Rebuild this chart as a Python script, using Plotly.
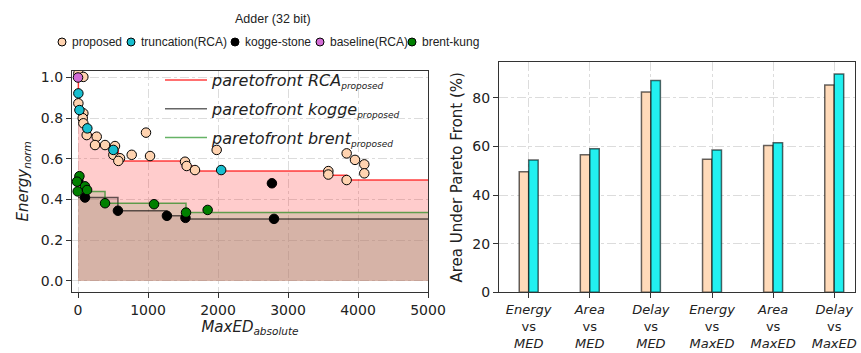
import plotly.graph_objects as go

# ---------------- left panel data ----------------
prop_x = [5, 76, 5, 76, 67, 76, 124, 267, 243, 386, 528, 505, 600, 576, 767, 1029, 971,
          1529, 1552, 1671, 1981, 3576, 3576, 3838, 3838, 3957, 4090, 4090]
prop_y = [1.02, 1.003, 0.873, 0.824, 0.80, 0.775, 0.717, 0.709, 0.668, 0.668, 0.663, 0.62, 0.603,
          0.59, 0.62, 0.614, 0.729, 0.586, 0.565, 0.545, 0.644, 0.54, 0.523, 0.496, 0.627,
          0.595, 0.573, 0.529]

trunc_x = [5, 20, 133, 505, 2045]
trunc_y = [0.922, 0.84, 0.75, 0.644, 0.545]

kogge_x = [5, 100, 570, 1270, 1535, 2770, 2800]
kogge_y = [0.492, 0.41, 0.345, 0.32, 0.31, 0.48, 0.305]

base_x = [0]
base_y = [1.0]

brent_x = [20, -15, 100, 130, -5, 386, 1086, 1543, 1852]
brent_y = [0.515, 0.488, 0.465, 0.447, 0.44, 0.382, 0.377, 0.336, 0.349]

front_rca_x = [0, 5, 20, 70, 130, 290, 505, 576, 1529, 1640, 3576, 3838, 5000]
front_rca_y = [1.0, 0.92, 0.84, 0.775, 0.72, 0.665, 0.644, 0.59, 0.565, 0.54, 0.52, 0.496, 0.496]

front_kogge_x = [0, 570, 1270, 1535, 5000]
front_kogge_y = [0.41, 0.345, 0.32, 0.305, 0.305]

front_brent_x = [0, 386, 1543, 5000]
front_brent_y = [0.44, 0.382, 0.336, 0.336]

legend_title = "Adder (32 bit)"
legend_labels = ["proposed", "truncation(RCA)", "kogge-stone", "baseline(RCA)", "brent-kung"]

# ---------------- right panel data ----------------
bar_categories = [
    "<i>Energy</i><br>vs<br><i>MED</i>",
    "<i>Area</i><br>vs<br><i>MED</i>",
    "<i>Delay</i><br>vs<br><i>MED</i>",
    "<i>Energy</i><br>vs<br><i>MaxED</i>",
    "<i>Area</i><br>vs<br><i>MaxED</i>",
    "<i>Delay</i><br>vs<br><i>MaxED</i>",
]
bar_proposed = [49.6, 56.6, 82.4, 54.7, 60.4, 85.3]
bar_truncation = [54.4, 59.0, 87.1, 58.5, 61.5, 89.8]

W, H = 861, 353
FONT = "DejaVu Sans"
LFONT = "Liberation Sans"

marker_colors = ["#FFD3B0", "#17BECF", "black", "#D36ED6", "#008000"]

fig = go.Figure()

# fills (no legend)
fig.add_trace(go.Scatter(x=front_rca_x, y=front_rca_y, mode="lines", line=dict(shape="hv", width=0),
                         fill="tozeroy", fillcolor="rgba(255,0,0,0.2)", showlegend=False,
                         hoverinfo="skip", xaxis="x", yaxis="y"))
fig.add_trace(go.Scatter(x=front_brent_x, y=front_brent_y, mode="lines", line=dict(shape="hv", width=0),
                         fill="tozeroy", fillcolor="rgba(139,169,113,0.25)", showlegend=False,
                         hoverinfo="skip", xaxis="x", yaxis="y"))
fig.add_trace(go.Scatter(x=front_kogge_x, y=front_kogge_y, mode="lines", line=dict(shape="hv", width=0),
                         fill="tozeroy", fillcolor="rgba(178,132,126,0.25)", showlegend=False,
                         hoverinfo="skip", xaxis="x", yaxis="y"))

# front lines (inner legend)
sub = '<sub><span style="font-size:9px">proposed</span></sub>'
fig.add_trace(go.Scatter(x=front_rca_x, y=front_rca_y, mode="lines",
                         line=dict(shape="hv", width=1.5, color="rgba(255,0,0,0.75)"),
                         name="<i>paretofront RCA" + sub + "</i>", legend="legend2",
                         legendgroup="a", xaxis="x", yaxis="y"))
fig.add_trace(go.Scatter(x=front_kogge_x, y=front_kogge_y, mode="lines",
                         line=dict(shape="hv", width=1.5, color="rgba(0,0,0,0.6)"),
                         name="<i>paretofront kogge" + sub + "</i>", legend="legend2",
                         legendgroup="b", xaxis="x", yaxis="y"))
fig.add_trace(go.Scatter(x=front_brent_x, y=front_brent_y, mode="lines",
                         line=dict(shape="hv", width=1.5, color="rgba(0,128,0,0.6)"),
                         name="<i>paretofront brent" + sub + "</i>", legend="legend2",
                         legendgroup="c", xaxis="x", yaxis="y"))

series = [(prop_x, prop_y), (trunc_x, trunc_y), (kogge_x, kogge_y), (base_x, base_y), (brent_x, brent_y)]
for (sx, sy), name, col in zip(series, legend_labels, marker_colors):
    fig.add_trace(go.Scatter(x=sx, y=sy, mode="markers", name=name, showlegend=False,
                             marker=dict(color=col, size=9.5, line=dict(color="black", width=1)),
                             xaxis="x", yaxis="y"))

# bars
fig.add_trace(go.Bar(x=bar_categories, y=bar_proposed, marker=dict(color="#FFDAB9",
                     line=dict(color="rgba(0,0,0,0.6)", width=1.5)), showlegend=False,
                     xaxis="x2", yaxis="y2"))
fig.add_trace(go.Bar(x=bar_categories, y=bar_truncation, marker=dict(color="#22F0F0",
                     line=dict(color="rgba(0,0,0,0.6)", width=1.5)), showlegend=False,
                     xaxis="x2", yaxis="y2"))

# top legend built from shapes + text (matches compact matplotlib layout)
marker_px = [62, 131, 235, 320, 412]
ly = 1 - 42 / H
shapes = []
annotations = [dict(text=legend_title, x=273 / W, y=1 - 19 / H, xref="paper", yref="paper",
                    showarrow=False, xanchor="center", yanchor="middle",
                    font=dict(family=LFONT, size=12.5, color="#222"))]
for px, lab, col in zip(marker_px, legend_labels, marker_colors):
    shapes.append(dict(type="circle", xref="paper", yref="paper", xsizemode="pixel", ysizemode="pixel",
                       xanchor=px / W, yanchor=ly, x0=-4, x1=4, y0=-4, y1=4,
                       fillcolor=col, line=dict(color="black", width=1)))
    annotations.append(dict(text=lab, x=(px + 8) / W, y=ly, xref="paper", yref="paper",
                            showarrow=False, xanchor="left", yanchor="middle",
                            font=dict(family=LFONT, size=12, color="#222")))

grid = dict(showgrid=True, gridcolor="#dcdcdc", griddash="dashdot", gridwidth=1)
axline = dict(showline=True, linecolor="#333", linewidth=1.2, mirror=True, ticks="outside",
              ticklen=5, tickcolor="#333", zeroline=False, automargin=False)

fig.update_layout(
    width=W, height=H, autosize=False,
    margin=dict(l=0, r=0, t=0, b=0),
    paper_bgcolor="white", plot_bgcolor="white",
    font=dict(family=FONT, color="#222"),
    showlegend=True,
    barmode="group", bargap=0.69, bargroupgap=0,
    shapes=shapes, annotations=annotations,
    xaxis=dict(domain=[72 / W, 428 / W], range=[-86, 5000], tickvals=[0, 1000, 2000, 3000, 4000, 5000],
               tickfont=dict(family=FONT, size=14, color="#222"),
               title=dict(text="<i>MaxED<sub>absolute</sub></i>", font=dict(size=15, family=FONT), standoff=3),
               anchor="y", **grid, **axline),
    yaxis=dict(domain=[1 - 291.7 / H, 1 - 71 / H], range=[-0.053, 1.032],
               tickvals=[0, 0.2, 0.4, 0.6, 0.8, 1.0], tickformat=".1f",
               tickfont=dict(family=FONT, size=14, color="#222"),
               title=dict(text="<i>Energy<sub>norm</sub></i>", font=dict(size=15, family=FONT), standoff=8),
               anchor="x", **grid, **axline),
    xaxis2=dict(domain=[499 / W, 855 / W], range=[-0.486, 5.34], type="category",
                tickfont=dict(family=FONT, size=13, color="#222"),
                anchor="y2", **grid, **axline),
    yaxis2=dict(domain=[1 - 292.3 / H, 1 - 62.3 / H], range=[0, 94.6], tickvals=[0, 20, 40, 60, 80],
                tickfont=dict(family=FONT, size=14, color="#222"),
                title=dict(text="Area Under Pareto Front (%)", font=dict(size=15, family=FONT), standoff=6),
                anchor="x2", **grid, **axline),
    legend2=dict(x=160 / W, xanchor="left", y=1 - 63 / H, yanchor="top", itemwidth=42,
                 font=dict(family=FONT, size=16, color="#222"), bgcolor="rgba(0,0,0,0)", tracegroupgap=5,
                 traceorder="grouped"),
)

fig.write_html("out.html")
